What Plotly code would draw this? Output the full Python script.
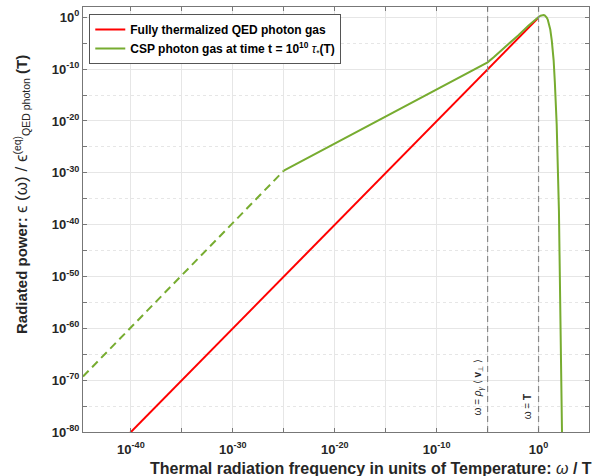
import plotly.graph_objects as go

# ---- data (log10 values) ----
red_logw = [-41.0, -1.0, -0.12]
red_loge = [-82.0, -2.0, -0.3]

green_dash_logw = [-44.7, -25.0]
green_dash_loge = [-69.3, -29.6]

green_logw = [-25.0, -20.0, -15.0, -10.0, -8.0, -6.5, -5.75, -5.0, -4.4, -3.76,
              -3.0, -2.0, -1.0, -0.5, 0.0, 0.2, 0.4, 0.5, 0.6, 0.7, 0.8, 0.9,
              1.0, 1.15, 1.3, 1.48, 1.6, 1.78, 2.0, 2.18, 2.3, 2.33]
green_loge = [-29.6, -24.4, -19.2, -14.0, -11.9, -10.4, -9.6, -8.7, -7.7, -6.6,
              -5.3, -3.5, -1.65, -0.75, 0.06, 0.31, 0.45, 0.45, 0.38, 0.23, -0.04, -0.45,
              -1.04, -2.37, -4.5, -8.3, -12.6, -20.7, -37.4, -58.6, -80.0, -85.9]

vline_logw = [-5.0, 0.0]

x_major = [-40, -30, -20, -10, 0]
x_grid = [-40, -35, -30, -25, -20, -15, -10, -5, 0]
y_major = [-80, -70, -60, -50, -40, -30, -20, -10, 0]
y_minor = [-75, -65, -55, -45, -35, -25, -15, -5]

xlog_range = [-44.7, 4.95]
ylog_range = [-80, 1.98]

RED = "#FF0000"
GREEN = "#77AC30"
FONT = "Liberation Sans, Arial, sans-serif"

p = lambda v: [10 ** a for a in v]

fig = go.Figure()

fig.add_trace(go.Scatter(x=p(red_logw), y=p(red_loge), mode="lines",
                         line=dict(color=RED, width=2),
                         name="<b>Fully thermalized QED photon gas</b>"))
fig.add_trace(go.Scatter(x=p(green_logw), y=p(green_loge), mode="lines",
                         line=dict(color=GREEN, width=2),
                         name="<b>CSP photon gas at time t = 10<sup>10</sup> </b><i>τ</i><sub>*</sub><b>(T)</b>"))
fig.add_trace(go.Scatter(x=p(green_dash_logw), y=p(green_dash_loge), mode="lines",
                         line=dict(color=GREEN, width=2, dash="8px,5px"),
                         showlegend=False))
for lw in vline_logw:
    fig.add_trace(go.Scatter(x=p([lw, lw]), y=p(ylog_range), mode="lines",
                             line=dict(color="#8a8a8a", width=1.2, dash="6px,4px"),
                             showlegend=False, hoverinfo="skip"))

axis_common = dict(
    type="log", showline=True, linecolor="#777777", linewidth=1, mirror="allticks",
    ticks="inside", ticklen=4, tickcolor="#777777", zeroline=False,
    showgrid=True, gridcolor="#e6e6e6", gridwidth=1,
    tickfont=dict(family=FONT, size=13, color="#262626"),
)

fig.update_xaxes(**axis_common, range=xlog_range, ticklabelstandoff=5,
                 tickmode="array", tickvals=p(x_grid),
                 ticktext=[("<b>10<sup>%d</sup></b>" % v) if v in x_major else "" for v in x_grid])
fig.update_yaxes(**axis_common, range=ylog_range,
                 tickmode="array", tickvals=p(y_major),
                 ticktext=["<b>10<sup>%d</sup></b>" % v for v in y_major],
                 minor=dict(tickmode="array", tickvals=p(y_minor), ticks="inside", ticklen=4,
                            tickcolor="#777777", showgrid=True, gridcolor="#e6e6e6",
                            griddash="dot", gridwidth=1))

fig.add_annotation(x=-5.0, xref="x", xshift=-9, y=0.104, yref="paper",
                   text="ω = <i>ρ</i><sub><i>γ</i></sub> ⟨ <b>v</b><sub>⊥</sub> ⟩",
                   textangle=-90, showarrow=False, xanchor="center", yanchor="middle",
                   font=dict(family=FONT, size=10, color="#262626"))
fig.add_annotation(x=0.0, xref="x", xshift=-11, y=0.0595, yref="paper",
                   text="ω = <b>T</b>",
                   textangle=-90, showarrow=False, xanchor="center", yanchor="middle",
                   font=dict(family=FONT, size=10, color="#262626"))

fig.add_annotation(x=1.01, xref="paper", y=-0.087, yref="paper",
                   text="<b>Thermal radiation frequency in units of Temperature: </b><i>ω</i><b> / T</b>",
                   showarrow=False, xanchor="right", yanchor="middle",
                   font=dict(family=FONT, size=16, color="#262626"))
fig.add_annotation(x=-0.1206, xref="paper", y=0.56, yref="paper",
                   text="<b>Radiated power: </b><span style=\"font-size:17px\">ϵ (ω) / ϵ</span><sup>(eq)</sup><sub>QED photon</sub><b> (T)</b>",
                   textangle=-90, showarrow=False, xanchor="center", yanchor="middle",
                   font=dict(family=FONT, size=15, color="#262626"))

fig.update_layout(
    width=595, height=476, autosize=False,
    margin=dict(l=83, r=6, t=7, b=44),
    paper_bgcolor="white", plot_bgcolor="white",
    font=dict(family=FONT, color="#262626"),
    showlegend=True,
    legend=dict(x=0.0124, y=0.9835, xanchor="left", yanchor="top",
                bgcolor="white", bordercolor="#555555", borderwidth=1,
                font=dict(family=FONT, size=12, color="#000000"),
                tracegroupgap=0),
)

fig.write_html("out.html")
